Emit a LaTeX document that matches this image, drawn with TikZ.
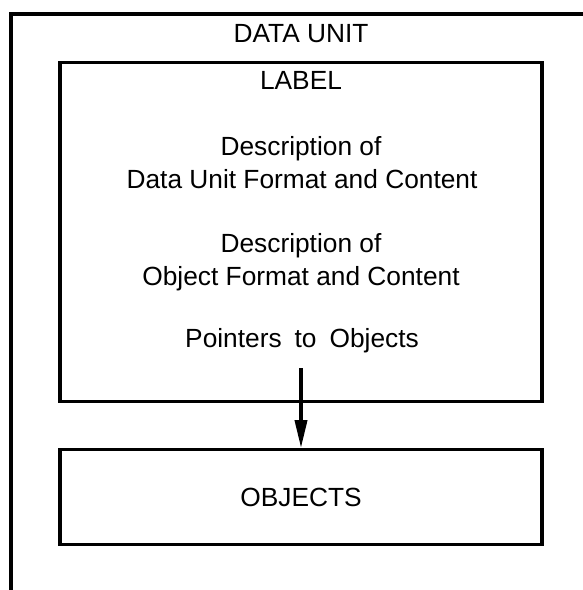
\documentclass[tikz,border=0pt]{standalone}
\usepackage{fontspec}
\setmainfont{Liberation Sans}
\usetikzlibrary{arrows.meta, positioning}

\tikzset{
    frame/.style={draw, line width=3.3pt},
    boxtext/.style={anchor=base, font=\fontsize{26.3}{30}\selectfont},
    pointer/.style={line width=3.7pt, -{Triangle[length=28pt, width=12pt]}},
}

\begin{document}
\begin{tikzpicture}[x=1pt, y=-1pt]
    % Page area
    \useasboundingbox (0,0) rectangle (583,590);
    \clip (0,0) rectangle (583,590);

    % Outer data unit frame (runs off right and bottom)
    \draw[frame] (600,14) -- (11,14) -- (11,610);
    \node[boxtext] (unit) at (301,42) {DATA UNIT};

    % Label box
    \node[frame, minimum width=482pt, minimum height=339pt] (labelbox) at (301,232) {};
    \node[boxtext] (label) at (301,89) {LABEL};
    \node[boxtext] (unitdesc) at (301,155) {Description of};
    \node[boxtext] (unitfmt) at (302,188) {Data Unit Format and Content};
    \node[boxtext] (objdesc) at (301,252) {Description of};
    \node[boxtext] (objfmt) at (301,285) {Object Format and Content};
    \node[boxtext] (pointers) at (302,347) {Pointers\hspace{13pt}to\hspace{13pt}Objects};

    % Objects box
    \node[frame, minimum width=482pt, minimum height=94.5pt,
          font=\fontsize{26.3}{30}\selectfont] (objects) at (301,497) {OBJECTS};

    % Pointer down to the objects
    \coordinate (ptr) at (301,368);
    \draw[pointer] (ptr) -- (objects.north);
\end{tikzpicture}
\end{document}
